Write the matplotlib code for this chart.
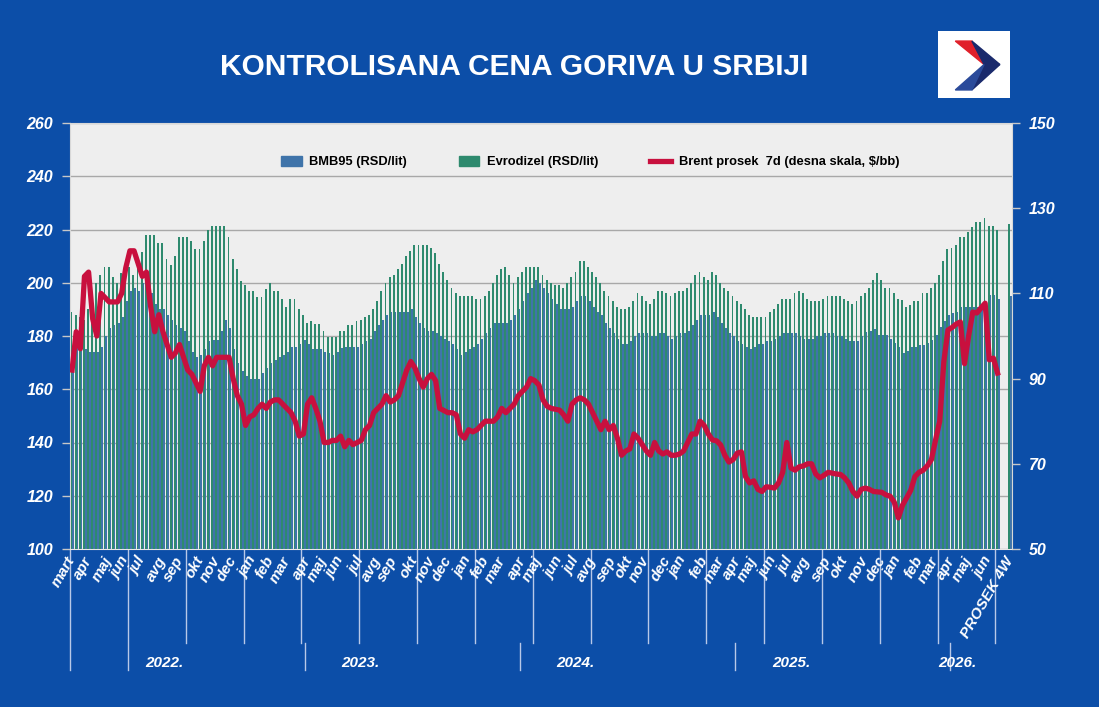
import numpy as np
import pandas as pd
import matplotlib
matplotlib.use('Agg')
import matplotlib.pyplot as plt
from matplotlib.patches import Patch, Polygon
from matplotlib.lines import Line2D

plt.rcParams['font.family'] = ['Liberation Sans', 'DejaVu Sans']

# weekly data, first week starts 2022-03-04
start_week = '2022-03-04'

bmb95 = [
  176, 176, 175, 175, 174, 174, 174, 176, 180, 183,
  184, 185, 187, 193, 197, 198, 197, 200, 199, 196,
  192, 190, 190, 188, 186, 184, 183, 182, 178, 174,
  172, 173, 175, 178, 178.5, 178.5, 182, 186, 183, 175,
  170, 167, 165, 164, 164, 164, 166, 168, 170, 171,
  172, 173, 174, 176, 176, 177, 178.5, 177, 175, 175,
  175, 174, 173.5, 173, 174, 175.5, 176, 176, 176, 176,
  177, 178, 179, 182, 184, 186, 188, 189, 189, 189,
  189, 189, 190, 187, 185, 183, 182, 182, 181, 180,
  179, 178, 177, 175, 173, 174, 175, 176, 177, 179,
  181, 183, 185, 185, 185, 185, 186, 188, 190, 193,
  196, 198, 201, 200, 198, 196, 194, 192, 190, 190,
  190, 191, 193, 195, 195, 193, 191, 189, 188, 185,
  183, 181, 179, 177, 177, 178, 180, 181, 181, 181,
  180, 180, 181, 181, 180, 179, 180, 181, 181, 182,
  184, 186, 188, 188, 188, 189, 187, 185, 183, 181,
  180, 178, 177, 176, 175, 176, 177, 177, 178, 178,
  179, 180, 181, 181, 181, 181, 180, 179, 179, 179,
  180, 180, 181, 181, 181, 180, 180, 179, 178, 178,
  178, 180, 181.5, 182, 182.5, 180.5, 180.5, 180.5, 179, 177.5,
  176, 173.5, 174.5, 176, 176, 176.5, 176.5, 177.5, 178.5, 180.5,
  183.5, 185.5, 188, 188.5, 189, 191, 191, 191, 191, 191,
  191, 191.5, 195.5, 195.5, 194,
]

evrodizel = [
  189, 188, 187, 186, 190, 196, 200, 203, 206, 206,
  202, 200, 203.5, 205, 206, 203, 208.5, 211.5, 218, 218,
  218, 215, 215, 209, 206.5, 210, 217, 217, 217, 215.5,
  212.5, 212.5, 215.5, 220, 221.5, 221.5, 221.5, 221.5, 217, 209,
  205, 200.5, 199, 197, 197, 194.5, 194.5, 197.5, 200, 197,
  197, 194, 191, 194, 194, 190, 188, 185, 185.5, 184.5,
  184.5, 182, 179.5, 179.5, 179.5, 182, 182, 184, 184, 185.5,
  186, 187, 188, 190, 193, 197, 200, 202, 203, 205,
  207, 210, 212, 214, 214, 214, 214, 213, 211, 207,
  204, 201, 198, 196, 195, 195, 195, 195, 194, 194,
  195, 197, 200, 203, 205, 206, 203, 200, 202, 204,
  206, 206, 206, 206, 203, 201, 200, 199, 199, 198,
  200, 202, 204, 208, 208, 206, 204, 202, 200, 197,
  195, 193, 191, 190, 190, 191, 193, 196, 195, 193,
  192, 194, 197, 197, 196, 195, 196, 197, 197, 198,
  200, 203, 204, 202, 201, 204, 203, 200, 198, 197,
  195, 193, 192, 190, 188, 187, 187, 187, 187, 189,
  190, 192, 194, 194, 194, 196, 197, 196, 194, 193,
  193, 193, 194, 195, 195, 195, 195, 194, 193, 192,
  193, 195, 196, 198, 201, 203.5, 201, 198, 198, 196,
  194, 193.5, 191, 191.5, 193, 193, 196, 196, 198, 200,
  203, 208, 212.5, 213, 214, 217, 217, 219, 221, 223,
  223, 224.5, 221.5, 221.5, 220,
]

brent = [
  92, 101, 97, 114, 115, 104, 100, 110, 109, 108,
  108, 108, 110, 116, 120, 120, 117, 114, 115, 107,
  101, 105, 101, 98, 95, 96, 98, 95, 92, 91,
  89, 87, 93, 95, 93, 95, 95, 95, 95, 90,
  86, 84, 79, 81, 81.5, 83, 84, 83, 84.5, 85,
  85, 84, 83, 82, 80, 76.5, 77, 84, 85.5, 83,
  80, 75, 75, 75.5, 75.5, 76.5, 74, 75.5, 74.5, 75,
  75.5, 78, 79, 82, 83, 84, 86, 84.5, 85, 86,
  89, 92, 94, 92.5, 90, 88, 90, 91, 89.5, 83,
  82.5, 82, 82, 81.5, 77, 76, 78, 77.5, 78, 79,
  80, 80, 80, 81, 83, 82, 83, 84, 86, 87,
  88, 90, 89.5, 88.5, 85, 83.5, 83, 82.8, 82.6, 81.5,
  80, 84, 85, 85.5, 85, 84, 82, 80, 78, 80,
  78, 79, 76, 72, 73, 73.5, 77, 76, 74.5, 73,
  72, 75, 73, 72.3, 72.8, 72, 72, 72.3, 73, 75,
  77, 77, 80, 79, 77, 75.6, 75.4, 74.4, 72, 70.4,
  71, 72.5, 72.8, 67, 65.5, 66, 64, 63.5, 64.6, 64.5,
  64.3, 65.5, 68, 75, 69, 68.5, 69.3, 69.5, 70, 70,
  67.6, 66.7, 67.3, 68, 67.8, 67.6, 67.5, 66.7, 65.5, 63.5,
  62.4, 64, 64.3, 64, 63.5, 63.4, 63.3, 62.7, 62.4, 61,
  57.3, 60.3, 62, 63.8, 67, 68, 68.5, 69.5, 71, 75.6,
  80, 94, 101.4, 102, 102.8, 103.3, 93.5, 100, 105.6, 105.4,
  106.6, 107.7, 94.4, 94.8, 91.3,
]

# 4-week average bar at the far right
prosek_label = 'PROSEK 4W'
prosek_bmb95 = 195
prosek_evrodizel = 222

month_names = ['jan', 'feb', 'mar', 'apr', 'maj', 'jun', 'jul', 'avg', 'sep', 'okt', 'nov', 'dec']
years = ['2022.', '2023.', '2024.', '2025.', '2026.']
year_pos = [22.3, 69.7, 121.8, 174.0, 214.3]

bg = '#0c4ea8'
c_blue = '#3f74aa'
c_green = '#2e8a6e'
c_red = '#c8103e'

n = len(bmb95)
x = np.arange(n)
x_prosek = n + 2
dates = pd.date_range(start_week, periods=n, freq='7D')

fig = plt.figure(figsize=(10.99, 7.07), dpi=100, facecolor=bg)
ax = fig.add_axes([70/1099, 1-549/707, 942/1099, 426/707])
ax.set_facecolor('#eeeeee')

# bars: blue behind, thin green in front
ax.bar(x + 0.2, bmb95, width=0.6, color=c_blue, linewidth=0, zorder=2)
ax.bar(x - 0.15, evrodizel, width=0.45, color=c_green, linewidth=0, zorder=3)
ax.bar(x_prosek + 0.2, prosek_bmb95, width=0.6, color=c_blue, linewidth=0, zorder=2)
ax.bar(x_prosek - 0.15, prosek_evrodizel, width=0.45, color=c_green, linewidth=0, zorder=3)

ax.set_xlim(-0.5, x_prosek + 0.5)
ax.set_ylim(100, 260)
ax.set_yticks(np.arange(100, 261, 20))
ax.grid(axis='y', color='#a8a8a8', linewidth=1, zorder=1)
ax.set_axisbelow(True)
ax.set_xticks([])
for s in ['top', 'left', 'right']:
  ax.spines[s].set_color('#d8d8d8')
ax.spines['bottom'].set_color('#e8e8e8')

# right axis with brent
ax2 = ax.twinx()
ax2.plot(x, brent, color=c_red, linewidth=3.8, solid_joinstyle='round', zorder=5)
ax2.set_ylim(50, 150)
ax2.set_yticks(np.arange(50, 151, 20))
ax2.set_xlim(-0.5, x_prosek + 0.5)
for s in ax2.spines.values():
  s.set_visible(False)

for a in (ax, ax2):
  a.tick_params(axis='y', colors='#c8c8c8', labelcolor='white', length=6, width=1, pad=6)
  for lbl in a.get_yticklabels():
    lbl.set_fontweight('bold')
    lbl.set_fontstyle('italic')
    lbl.set_fontsize(11.5)

# month labels under the axis
trans = ax.get_xaxis_transform()
lab_kw = dict(color='white', fontsize=11, fontweight='bold', fontstyle='italic',
              rotation=60, rotation_mode='anchor', ha='right', va='center', transform=trans)
ax.text(0, -0.02, 'mart', **lab_kw)
for i in range(1, n):
  if dates[i].month != dates[i-1].month:
    ax.text(i, -0.02, month_names[dates[i].month - 1], **lab_kw)
ax.text(x_prosek, -0.02, prosek_label, **lab_kw)

# group lines below axis
for k in range(17):
  xe = -0.5 + 14 * k
  y_end = -0.285 if k < 2 else -0.22
  ax.plot([xe, xe], [0, y_end], color='#b8c8e8', linewidth=1, transform=trans, clip_on=False)
for k in range(4):
  xe = 56.5 + 52 * k
  ax.plot([xe, xe], [-0.22, -0.285], color='#b8c8e8', linewidth=1, transform=trans, clip_on=False)
for yr, xp in zip(years, year_pos):
  ax.text(xp, -0.268, yr, color='white', fontsize=11, fontweight='bold', fontstyle='italic',
          ha='center', va='center', transform=trans)

# legend
handles = [Patch(color=c_blue), Patch(color=c_green), Line2D([0], [0], color=c_red, linewidth=3.8)]
labels = ['BMB95 (RSD/lit)', 'Evrodizel (RSD/lit)', 'Brent prosek  7d (desna skala, $/bb)']
ax2.legend(handles, labels, loc='center', bbox_to_anchor=(0.552, 0.908), ncol=3, frameon=False,
           prop={'weight': 'bold', 'size': 9.3}, handlelength=1.6, handleheight=0.8,
           columnspacing=4.0, handletextpad=0.6)

# title
fig.text(0.468, 0.905, 'KONTROLISANA CENA GORIVA U SRBIJI', color='white', fontsize=21.5,
         fontweight='bold', ha='center', va='center')

# logo
lax = fig.add_axes([938/1099, 1-98/707, 72/1099, 67/707])
lax.set_xlim(0, 1)
lax.set_ylim(0, 1)
lax.set_facecolor('white')
lax.set_xticks([])
lax.set_yticks([])
for s in lax.spines.values():
  s.set_visible(False)
lax.add_patch(Polygon([(0.24, 0.85), (0.47, 0.85), (0.64, 0.50)], color='#e0202a'))
lax.add_patch(Polygon([(0.47, 0.85), (0.86, 0.50), (0.64, 0.50)], color='#1a2a6c'))
lax.add_patch(Polygon([(0.64, 0.50), (0.86, 0.50), (0.47, 0.12)], color='#1a2a6c'))
lax.add_patch(Polygon([(0.64, 0.50), (0.47, 0.12), (0.24, 0.12)], color='#2a4a9a'))

plt.savefig('out.png', dpi=100, facecolor=bg)
